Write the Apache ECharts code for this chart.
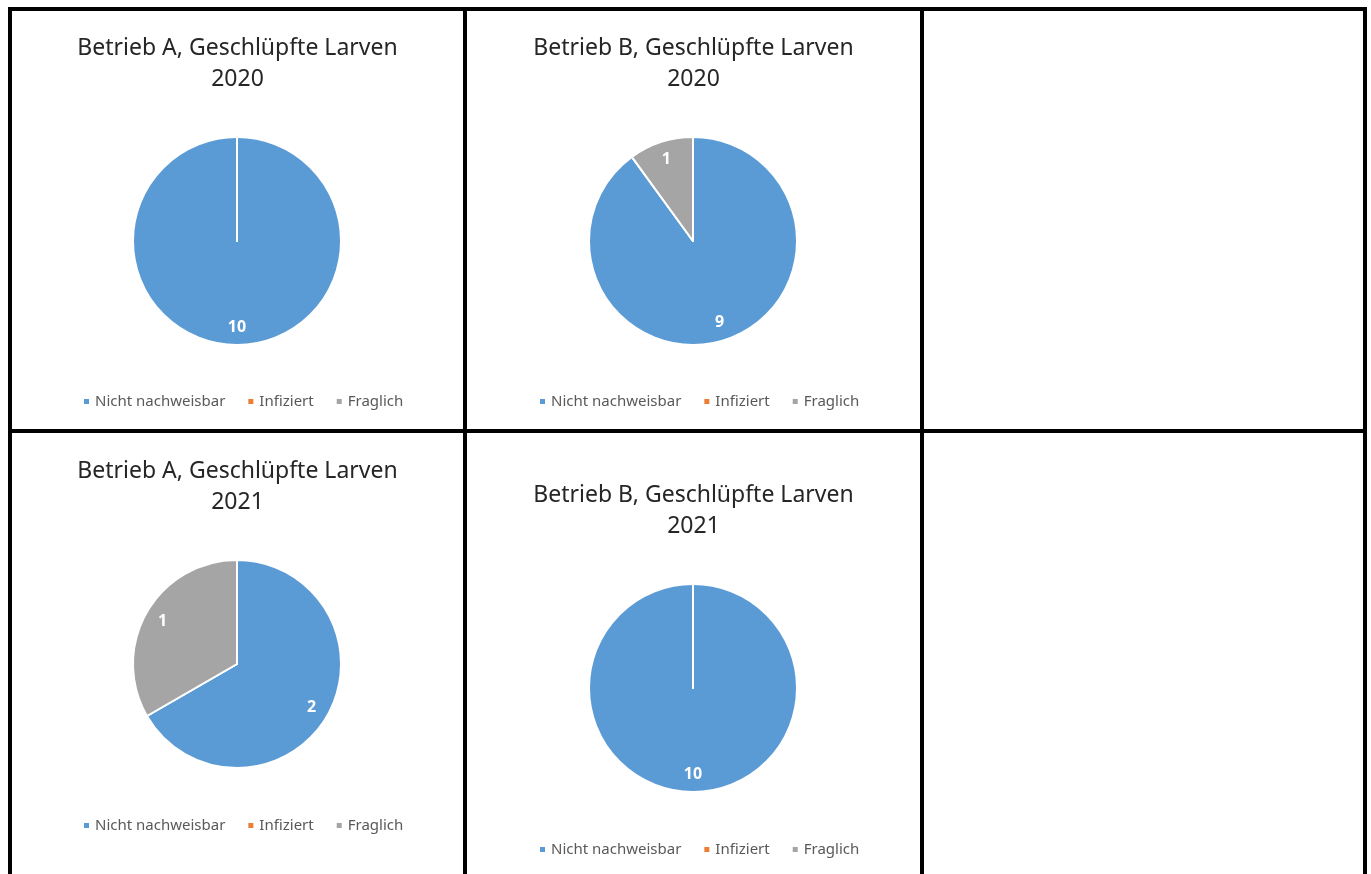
<!DOCTYPE html>
<html>
<head>
<meta charset="utf-8">
<script src="https://cdn.jsdelivr.net/npm/echarts@6/dist/echarts.min.js"></script>
<style>
  html, body { margin: 0; padding: 0; background: #fff; width: 1371px; height: 874px; overflow: hidden; }
  .line { position: absolute; background: #000; }
  .cell { position: absolute; }
</style>
</head>
<body>
<div class="line" style="left:8px; top:7px; width:1359px; height:4px;"></div>
<div class="line" style="left:8px; top:429px; width:1359px; height:4px;"></div>
<div class="line" style="left:8px; top:7px; width:4px; height:867px;"></div>
<div class="line" style="left:463px; top:7px; width:4px; height:867px;"></div>
<div class="line" style="left:920px; top:7px; width:4px; height:867px;"></div>
<div class="line" style="left:1363px; top:7px; width:4px; height:867px;"></div>

<div id="c1" class="cell" style="left:12px; top:11px; width:451px; height:418px;"></div>
<div id="c2" class="cell" style="left:467px; top:11px; width:453px; height:418px;"></div>
<div id="c3" class="cell" style="left:12px; top:433px; width:451px; height:441px;"></div>
<div id="c4" class="cell" style="left:467px; top:433px; width:453px; height:441px;"></div>

<script>
const categories = ['Nicht nachweisbar', 'Infiziert', 'Fraglich'];
const colors = ['#5B9BD5', '#ED7D31', '#A5A5A5'];
const titleA2020 = 'Betrieb A, Geschlüpfte Larven\n2020';
const titleB2020 = 'Betrieb B, Geschlüpfte Larven\n2020';
const titleA2021 = 'Betrieb A, Geschlüpfte Larven\n2021';
const titleB2021 = 'Betrieb B, Geschlüpfte Larven\n2021';
const valuesA2020 = [10, 0, 0];
const valuesB2020 = [9, 0, 1];
const valuesA2021 = [2, 0, 1];
const valuesB2021 = [10, 0, 0];

const FONT = 'Noto Sans';

function makeOption(title, values, layout) {
  const data = categories.map((name, i) => ({ name: name, value: values[i], itemStyle: { color: colors[i] } }));
  return {
    animation: false,
    title: {
      text: title,
      left: 'center',
      top: layout.titleTop,
      padding: 0,
      textStyle: { fontFamily: FONT, fontSize: 23, fontWeight: 'normal', color: '#262626', lineHeight: 31, align: 'center' }
    },
    legend: {
      left: layout.legendLeft,
      top: layout.legendTop,
      padding: 0,
      icon: 'rect',
      itemWidth: 7,
      itemHeight: 7,
      itemGap: 21,
      selectedMode: false,
      data: categories.map((name, i) => ({ name: name, itemStyle: { color: colors[i] } })),
      textStyle: { fontFamily: FONT, fontSize: 15, color: '#595959' }
    },
    series: [
      {
        type: 'pie',
        center: [layout.cx, layout.cy],
        radius: [0, 104],
        startAngle: 90,
        clockwise: true,
        avoidLabelOverlap: false,
        silent: true,
        label: { show: false },
        labelLine: { show: false },
        itemStyle: { borderColor: '#ffffff', borderWidth: 2 },
        emphasis: { disabled: true },
        data: data
      },
      {
        type: 'pie',
        center: [layout.cx, layout.cy],
        radius: [60, 106],
        startAngle: 90,
        clockwise: true,
        avoidLabelOverlap: false,
        silent: true,
        z: 3,
        itemStyle: { color: 'rgba(0,0,0,0)', borderWidth: 0 },
        emphasis: { disabled: true },
        labelLine: { show: false },
        label: {
          show: true,
          position: 'inside',
          fontFamily: FONT,
          fontSize: 16,
          fontWeight: 'bold',
          color: '#ffffff',
          formatter: p => (p.value === 0 ? '' : String(p.value))
        },
        data: categories.map((name, i) => ({ name: name, value: values[i] }))
      }
    ]
  };
}

const charts = [
  ['c1', titleA2020, valuesA2020, { cx: 225, cy: 230, titleTop: 22, legendTop: 383, legendLeft: 70 }],
  ['c2', titleB2020, valuesB2020, { cx: 226, cy: 230, titleTop: 22, legendTop: 383, legendLeft: 71 }],
  ['c3', titleA2021, valuesA2021, { cx: 225, cy: 231, titleTop: 23, legendTop: 385, legendLeft: 70 }],
  ['c4', titleB2021, valuesB2021, { cx: 226, cy: 255, titleTop: 47, legendTop: 409, legendLeft: 71 }]
];

charts.forEach(([id, title, values, layout]) => {
  const chart = echarts.init(document.getElementById(id), null, { renderer: 'canvas' });
  chart.setOption(makeOption(title, values, layout));
});
</script>
</body>
</html>
